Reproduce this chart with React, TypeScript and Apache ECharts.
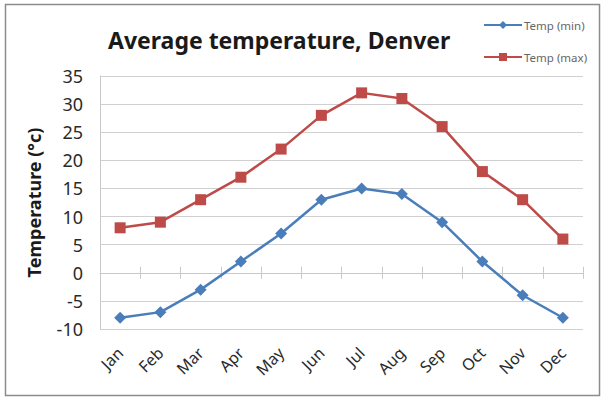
import React, { useEffect, useRef } from "react";
import * as echarts from "echarts";

const months = ["Jan", "Feb", "Mar", "Apr", "May", "Jun", "Jul", "Aug", "Sep", "Oct", "Nov", "Dec"];
const tempMin = [-8, -7, -3, 2, 7, 13, 15, 14, 9, 2, -4, -8];
const tempMax = [8, 9, 13, 17, 22, 28, 32, 31, 26, 18, 13, 6];
const yMin = -10;
const yMax = 35;
const yStep = 5;

const FONT = "'Noto Sans', sans-serif";

export default function App() {
  const ref = useRef<HTMLDivElement>(null);
  useEffect(() => {
    if (!ref.current) return;
    const chart = echarts.init(ref.current, null, { renderer: "svg" });
    const gridPos = { left: 100, right: 22, top: 76, bottom: 77, containLabel: false };
    const hiddenY = (i: number) => ({
      type: "value",
      gridIndex: i,
      min: yMin,
      max: yMax,
      interval: yStep,
      show: false,
    });
    chart.setOption({
      animation: false,
      backgroundColor: "#ffffff",
      graphic: [
        {
          type: "rect",
          shape: { x: 5.5, y: 4.5, width: 594, height: 391 },
          style: { fill: "none", stroke: "#8c8c8c", lineWidth: 1.5 },
          silent: true,
        },
      ],
      title: {
        text: "Average temperature, Denver",
        left: 103,
        top: 23,
        textStyle: { fontFamily: FONT, fontSize: 23, fontWeight: "bold", color: "#1a1a1a" },
      },
      legend: {
        orient: "vertical",
        left: 483,
        top: 19,
        padding: 0,
        itemWidth: 38,
        itemHeight: 10,
        itemGap: 20,
        textStyle: { fontFamily: FONT, fontSize: 11.5, color: "#666666", padding: [0, 0, 0, -3] },
        data: ["Temp (min)", "Temp (max)"],
      },
      grid: [gridPos, gridPos, gridPos],
      xAxis: [
        {
          type: "category",
          gridIndex: 0,
          data: months,
          position: "bottom",
          axisLine: { show: false, onZero: false },
          axisTick: { show: false },
          splitLine: { show: false },
          axisLabel: {
            rotate: 45,
            margin: 21,
            fontFamily: FONT,
            fontSize: 16,
            color: "#2a2a2a",
          },
        },
        {
          type: "category",
          gridIndex: 1,
          data: months,
          axisLine: { show: true, onZero: true, lineStyle: { color: "#c8c8c8", width: 1 } },
          axisTick: { show: true, inside: false, length: 6, lineStyle: { color: "#c8c8c8" } },
          axisLabel: { show: false },
          splitLine: { show: false },
        },
        {
          type: "category",
          gridIndex: 2,
          data: months,
          axisLine: { show: false, onZero: true },
          axisTick: { show: true, inside: true, length: 6, lineStyle: { color: "#c8c8c8" } },
          axisLabel: { show: false },
          splitLine: { show: false },
        },
      ],
      yAxis: [
        {
          type: "value",
          gridIndex: 0,
          min: yMin,
          max: yMax,
          interval: yStep,
          name: "Temperature (°c)",
          nameLocation: "middle",
          nameGap: 57,
          nameTextStyle: { fontFamily: FONT, fontSize: 18, fontWeight: "bold", color: "#1a1a1a" },
          axisLine: { show: true, lineStyle: { color: "#c8c8c8" } },
          axisTick: { show: false },
          axisLabel: { margin: 17, fontFamily: FONT, fontSize: 18, color: "#2a2a2a" },
          splitLine: { show: true, lineStyle: { color: "#d0d0d0", width: 1 } },
        },
        hiddenY(1),
        hiddenY(2),
      ],
      series: [
        {
          name: "Temp (min)",
          type: "line",
          xAxisIndex: 0,
          yAxisIndex: 0,
          data: tempMin,
          symbol: "diamond",
          symbolSize: 12,
          itemStyle: { color: "#4A7EBB" },
          lineStyle: { color: "#4A7EBB", width: 2.5 },
        },
        {
          name: "Temp (max)",
          type: "line",
          xAxisIndex: 0,
          yAxisIndex: 0,
          data: tempMax,
          symbol: "rect",
          symbolSize: 11,
          itemStyle: { color: "#BE4B48" },
          lineStyle: { color: "#BE4B48", width: 2.5 },
        },
      ],
    });
    return () => chart.dispose();
  }, []);
  return (
    <div
      ref={ref}
      style={{ position: "fixed", left: 0, top: 0, width: 605, height: 406 }}
    />
  );
}
